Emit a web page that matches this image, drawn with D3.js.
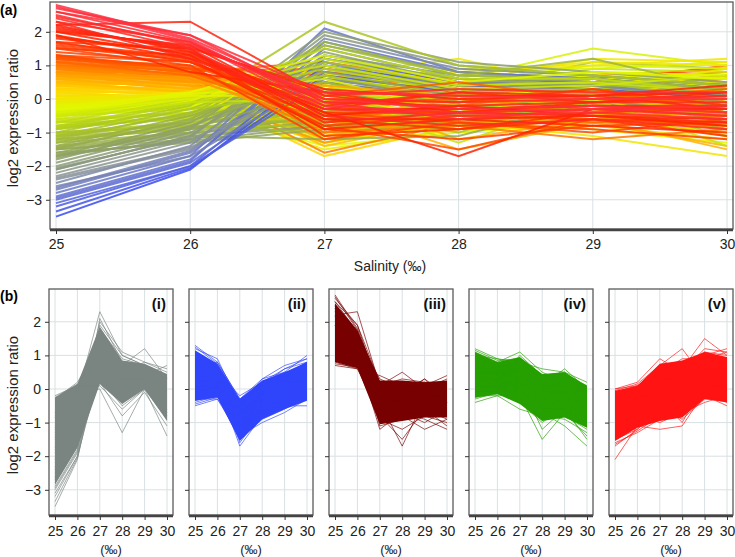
<!DOCTYPE html>
<html><head><meta charset="utf-8">
<script src="https://cdn.jsdelivr.net/npm/d3@7"></script>
<style>body{margin:0;background:#fff}svg{display:block;font-family:"Liberation Sans",Arial,sans-serif}</style>
</head><body><svg id="c" width="735" height="557"></svg>
<script>
const salinity = [25, 26, 27, 28, 29, 30];
const yTicks = [-3, -2, -1, 0, 1, 2];
const clusterNames = ["(i)", "(ii)", "(iii)", "(iv)", "(v)"];
const clusterColors = ["#7a8582", "#2f45fb", "#780000", "#25a000", "#ff1414"];
// order in which clusters are stacked in panel (a) (last = on top)
const stackOrder = [1, 3, 4, 0, 2];

// individual gene profiles (log2 ratio at 25..30 ‰)
const clusterI = [
[-3.5,-2.1,1.0,0.4,0.3,0.0],[-3.2,-2.0,1.2,0.5,0.4,0.1],[-3.0,-1.9,0.8,0.3,0.2,-0.2],[-2.9,-1.8,1.5,0.6,0.5,0.2],
[-2.7,-1.6,1.1,0.2,0.3,-0.3],[-2.6,-1.7,0.6,0.0,0.1,-0.5],[-2.5,-1.4,1.8,0.9,0.7,0.4],[-2.4,-1.5,0.9,0.4,0.4,0.0],
[-2.3,-1.3,1.3,0.7,0.6,0.3],[-2.2,-1.2,0.4,-0.2,0.1,-0.7],[-2.1,-1.1,1.6,0.8,0.5,0.2],[-2.0,-1.0,1.0,0.3,0.3,-0.1],
[-1.9,-0.9,2.0,1.1,0.8,0.5],[-1.8,-0.8,0.7,-0.1,0.2,-0.4],[-1.7,-0.7,1.4,0.5,0.6,0.1],[-1.6,-0.9,0.3,-0.5,0.0,-0.9],
[-1.5,-0.6,1.2,0.6,0.4,0.3],[-1.4,-0.5,0.8,0.1,0.2,-0.2],[-1.3,-0.6,1.7,0.7,1.2,0.3],[-1.2,-0.4,0.5,-0.3,0.1,-0.6],
[-1.1,-0.3,1.1,0.4,0.5,0.0],[-1.0,-0.2,2.3,1.0,0.7,0.4],[-0.9,-0.3,0.2,-0.8,-0.1,-1.1],[-0.8,-0.1,0.9,0.2,0.3,-0.3],
[-0.7,0.0,1.5,0.6,0.6,0.2],[-0.6,-0.1,0.0,-1.3,0.0,-1.4],[-0.5,0.1,1.0,0.3,0.4,0.7],[-0.4,0.0,0.6,-0.4,0.1,-0.5],
[-0.3,0.2,1.3,0.5,0.8,0.6],[-0.2,0.1,0.1,-0.6,0.0,-0.8],[-2.8,-1.7,2.1,0.8,0.6,0.3],[-3.1,-2.0,0.5,0.0,0.2,-0.4],
[-3.35,-2.05,0.7,0.2,0.3,-0.2],[-2.95,-1.85,1.7,0.8,0.6,0.3],[-2.65,-1.55,1.3,0.5,0.4,0.0],[-2.35,-1.45,0.6,0.1,0.2,-0.4],
[-2.05,-1.15,1.9,1.0,0.7,0.4],[-1.75,-0.85,1.0,0.2,0.3,-0.2],[-1.45,-0.65,0.5,-0.2,0.1,-0.5],[-1.15,-0.45,1.6,0.7,0.6,0.3],
[-0.85,-0.15,0.7,0.0,0.2,-0.3],[-0.55,0.05,1.2,0.4,0.5,0.2],[-0.25,0.15,0.4,-0.2,0.1,-0.4]
];
const clusterII = [
[1.3,0.8,-0.3,0.2,0.6,0.9],[1.2,0.9,-0.5,0.3,0.5,1.0],[1.1,0.7,-0.6,0.0,0.4,0.6],[1.0,0.6,-0.8,-0.2,0.2,0.5],
[0.9,0.7,-0.4,0.1,0.6,0.8],[0.9,0.5,-1.0,-0.4,0.0,0.3],[0.8,0.5,-0.7,-0.1,0.3,0.7],[0.7,0.4,-1.2,-0.5,-0.2,0.2],
[0.7,0.6,-0.5,0.2,0.4,0.5],[0.6,0.3,-0.9,-0.3,0.1,0.4],[0.5,0.4,-1.4,-0.6,-0.3,0.1],[0.5,0.2,-0.6,0.0,0.3,0.6],
[0.4,0.3,-1.1,-0.4,0.0,0.3],[0.3,0.1,-0.8,-0.2,0.2,0.2],[0.3,0.2,-1.7,-0.8,-0.5,0.0],[0.2,0.0,-1.0,-0.5,-0.1,0.4],
[0.1,0.1,-0.6,-0.1,0.3,0.7],[0.1,-0.1,-1.3,-0.7,-0.4,-0.1],[0.0,0.0,-0.9,-0.3,0.0,0.3],[-0.1,-0.2,-1.5,-0.9,-0.6,-0.2],
[-0.1,0.1,-0.7,-0.2,0.1,0.5],[-0.2,-0.1,-1.1,-0.6,-0.2,0.1],[-0.3,-0.3,-1.4,-1.0,-0.7,-0.3],[-0.3,0.0,-0.5,0.1,0.4,0.8],
[-0.4,-0.2,-1.0,-0.4,-0.3,0.0],[-0.5,-0.3,-1.2,-0.8,-0.5,-0.5],[0.6,0.8,-0.3,0.3,0.7,0.9],[1.0,0.4,-1.6,-0.7,-0.2,0.2],
[0.4,0.5,-0.2,0.2,0.5,0.6],[0.8,0.2,-1.3,-0.5,-0.3,0.0],
[1.25,0.75,-0.4,0.1,0.4,0.7],[1.05,0.65,-0.9,-0.3,0.1,0.4],[0.85,0.55,-0.6,0.0,0.3,0.6],[0.65,0.45,-1.1,-0.5,-0.1,0.2],
[0.45,0.25,-0.7,-0.2,0.2,0.5],[0.25,0.15,-1.2,-0.6,-0.3,0.1],[0.05,0.05,-0.8,-0.3,0.1,0.4],[-0.15,-0.05,-1.3,-0.7,-0.4,0.0],
[-0.35,-0.15,-0.9,-0.4,-0.1,0.2],[-0.45,-0.25,-0.6,-0.2,0.0,0.3]
];
const clusterIII = [
[2.8,1.8,0.0,-0.3,-0.2,-0.4],[2.7,1.9,0.2,0.1,0.0,0.0],[2.6,1.7,-0.3,-0.5,-0.4,-0.6],[2.5,1.6,0.1,0.3,0.2,0.2],
[2.4,1.5,-0.5,-0.8,-0.6,-0.9],[2.3,1.7,-0.1,-0.2,-0.1,-0.1],[2.2,1.4,-0.7,-0.4,-0.5,-0.7],[2.1,1.5,0.3,0.0,0.1,0.4],
[2.0,1.3,-0.4,-1.7,-0.3,-0.5],[1.9,1.2,-0.9,-0.6,-0.8,-1.0],[1.8,1.4,-0.2,0.2,-0.1,0.1],[1.7,1.1,-0.6,-0.9,-0.4,-0.3],
[1.6,1.2,0.0,-0.1,0.3,-0.2],[1.5,1.0,-1.2,-0.7,-0.9,-1.2],[1.4,1.1,-0.3,-0.4,-0.2,-0.4],[1.3,0.9,-0.8,-1.5,-0.6,-0.8],
[1.2,1.0,0.1,0.5,0.0,0.3],[1.1,0.8,-0.5,-0.3,-0.7,-0.5],[1.0,0.9,-1.0,-0.8,-1.2,-0.9],[0.9,0.7,-0.2,0.0,-0.3,-0.1],
[0.8,0.6,-0.7,-0.5,-0.4,-0.6],[0.7,0.6,0.4,0.1,0.2,0.0],[2.6,1.9,-0.1,-0.6,-0.3,-0.2],[2.0,1.6,-0.5,-0.2,-0.5,-0.8],
[1.5,1.3,-0.9,-1.2,-0.8,-0.7],[2.3,1.2,-0.3,0.2,0.1,-0.3],[1.7,1.5,-1.1,-0.9,-0.6,-1.1],[1.1,0.7,-0.6,-0.2,0.3,-0.4],
[1.9,0.8,0.2,-0.4,-0.1,0.2],[1.3,1.1,-0.4,-0.7,-1.0,-0.6],[2.2,2.3,0.1,-0.3,-0.2,-0.3],
[2.75,1.75,-0.2,-0.4,-0.3,-0.5],[2.45,1.65,0.0,-0.1,0.0,0.1],[2.15,1.45,-0.6,-0.6,-0.5,-0.6],[1.85,1.35,-0.3,-0.3,-0.2,-0.2],
[1.55,1.15,-0.8,-0.5,-0.6,-0.7],[1.25,0.95,-0.1,0.0,-0.1,0.0],[0.95,0.75,-0.5,-0.6,-0.5,-0.4],[0.75,0.65,-0.9,-0.7,-0.7,-0.8],
[2.05,1.55,0.2,0.1,0.1,0.2],[1.65,1.25,-0.4,-0.4,-0.3,-0.3]
];
const clusterIV = [
[1.2,0.9,0.7,0.3,0.4,-0.1],[1.1,0.8,1.1,0.5,0.2,-0.3],[1.0,0.7,0.4,-0.2,0.0,-0.6],[1.0,0.9,0.8,0.6,0.5,0.2],
[0.9,0.6,0.2,-0.5,-0.3,-0.9],[0.9,0.7,0.6,0.1,0.6,0.0],[0.8,0.5,0.5,-0.1,-0.1,-0.5],[0.8,0.6,0.9,0.4,0.3,-0.2],
[0.7,0.4,0.0,-0.8,-0.5,-1.1],[0.7,0.5,0.3,-0.3,0.1,-0.4],[0.6,0.3,0.7,0.2,0.2,-0.1],[0.6,0.4,-0.2,-1.5,-0.7,-1.4],
[0.5,0.2,0.4,0.0,-0.2,-0.7],[0.5,0.5,0.8,0.3,0.4,0.1],[0.4,0.2,0.1,-0.4,-0.4,-0.8],[0.4,0.3,0.6,0.2,0.0,-0.3],
[0.3,0.1,-0.3,-0.9,-0.8,-1.2],[0.3,0.3,0.5,-0.1,0.3,-0.2],[0.2,0.0,0.2,-0.2,-0.1,-0.6],[0.2,0.2,1.0,0.4,0.5,0.0],
[0.1,0.0,-0.1,-0.6,-0.6,-1.0],[0.1,0.1,0.3,0.1,0.1,-0.4],[0.0,-0.1,0.0,-0.7,-1.1,-1.7],[0.0,0.1,0.4,0.0,-0.2,-0.5],
[-0.1,-0.1,-0.4,-1.0,-0.5,-0.9],[-0.1,0.0,0.2,-0.3,0.1,-0.2],[-0.2,-0.2,-0.6,-0.8,-0.9,-1.3],[-0.3,-0.1,0.1,-0.4,-0.3,-0.7],
[-0.4,-0.2,-0.2,-0.5,-0.4,-0.8],[0.6,0.6,0.2,-1.2,-0.6,-1.5],
[1.15,0.85,0.9,0.4,0.3,0.0],[0.95,0.65,0.3,-0.3,-0.1,-0.5],[0.75,0.55,0.6,0.1,0.2,-0.2],[0.55,0.35,0.0,-0.6,-0.4,-0.9],
[0.35,0.25,0.7,0.2,0.3,-0.1],[0.15,0.05,0.1,-0.4,-0.3,-0.7],[-0.05,-0.05,0.3,-0.1,0.0,-0.4],[-0.25,-0.15,-0.3,-0.6,-0.6,-1.0],
[0.45,0.45,0.5,0.0,0.1,-0.3],[0.25,0.15,-0.1,-0.7,-0.5,-1.1]
];
const clusterV = [
[0.0,0.2,0.9,0.5,1.2,1.1],[0.0,0.1,0.6,0.8,1.0,1.2],[-0.1,0.1,0.4,0.2,0.6,0.5],[-0.1,0.0,0.7,1.2,0.3,0.9],
[-0.2,0.0,0.2,0.0,0.4,0.2],[-0.3,-0.1,0.5,0.4,0.8,0.7],[-0.3,-0.2,0.0,-0.2,0.2,-0.1],[-0.4,-0.1,0.3,0.6,1.5,1.0],
[-0.5,-0.3,0.1,0.1,0.5,0.4],[-0.5,-0.2,-0.2,0.3,0.2,0.0],[-0.6,-0.4,0.4,0.2,0.9,0.8],[-0.7,-0.4,-0.4,-0.3,0.0,-0.3],
[-0.8,-0.5,0.2,0.4,0.7,0.6],[-0.8,-0.6,-0.6,0.0,0.3,0.2],[-0.9,-0.5,0.0,-0.1,0.5,0.3],[-1.0,-0.7,-0.3,0.2,1.1,0.9],
[-1.0,-0.8,-0.8,-0.5,-0.2,-0.5],[-1.1,-0.7,0.1,0.0,0.4,0.5],[-1.2,-0.9,-0.5,-0.3,0.1,0.1],[-1.2,-0.8,-1.0,-0.7,-0.4,-0.2],
[-1.3,-1.0,-0.2,0.1,0.6,0.4],[-1.4,-1.0,-0.7,-0.4,0.2,0.0],[-1.5,-1.1,-1.2,-1.1,-0.1,-0.4],[-1.5,-1.2,-0.4,-0.2,0.3,0.2],
[-1.6,-1.3,-0.9,-0.6,0.0,-0.1],[-1.7,-1.2,-0.6,-0.9,-0.3,-0.3],[-2.1,-1.1,-0.8,-0.5,0.1,0.2],[-0.4,-0.3,0.5,0.9,0.9,1.1],
[-0.7,-0.6,-0.1,-0.4,0.6,0.6],[-1.1,-0.9,-0.3,-1.0,0.2,0.3],
[-0.05,0.15,0.7,0.7,1.1,1.0],[-0.25,-0.05,0.3,0.3,0.7,0.6],[-0.45,-0.25,0.2,0.2,0.8,0.7],[-0.65,-0.45,0.1,0.0,0.4,0.3],
[-0.85,-0.55,-0.1,0.1,0.6,0.5],[-1.05,-0.75,-0.4,-0.2,0.3,0.2],[-1.25,-0.85,-0.6,-0.4,0.2,0.1],[-1.45,-1.05,-0.5,-0.3,0.4,0.3],
[-1.65,-1.25,-0.8,-0.7,-0.1,-0.2],[-0.35,-0.15,0.6,0.5,1.0,0.9]
];
const clusters = [clusterI, clusterII, clusterIII, clusterIV, clusterV];

// dense core of each cluster (upper / lower edge of the filled band)
const bandHigh = [
[-0.25,0.15,1.85,0.85,0.75,0.45],[1.15,0.75,-0.3,0.25,0.5,0.8],[2.55,1.75,0.25,0.25,0.2,0.25],
[1.1,0.8,0.95,0.45,0.5,0.1],[-0.05,0.1,0.75,0.85,1.1,0.95]];
const bandLow = [
[-2.85,-1.75,0.15,-0.45,0.0,-0.95],[-0.35,-0.25,-1.55,-0.9,-0.6,-0.35],[0.8,0.62,-1.05,-0.95,-0.85,-0.85],
[-0.25,-0.15,-0.45,-0.95,-0.85,-1.15],[-1.55,-1.15,-0.95,-0.85,-0.3,-0.4]];

// colour ramp of panel (a), keyed on the ratio at 25 ‰
const rampStops = [-3.5,-2.8,-2.3,-1.6,-0.9,-0.3,0.3,0.8,1.3,2.0,2.7];
const rampColors = ["#3a4af0","#6a78c8","#8a9492","#90a45a","#b0cc1c","#e0f800","#ffd400","#ff9800","#ff4a00","#ff2200","#ff3040"];

const svg = d3.select("#c");
const gridCol = "#d9e0e3", frameCol = "#5a5a5a";

function panel(g, x, y, opts) {
  g.append("g").selectAll("line").data(salinity).join("line")
    .attr("x1", d => x(d)).attr("x2", d => x(d))
    .attr("y1", y.range()[1]).attr("y2", y.range()[0])
    .attr("stroke", gridCol).attr("stroke-width", 1);
  g.append("g").selectAll("line").data(yTicks).join("line")
    .attr("x1", opts.left).attr("x2", opts.right)
    .attr("y1", d => y(d)).attr("y2", d => y(d))
    .attr("stroke", gridCol).attr("stroke-width", 1);
}
function frame(g, x, y, opts) {
  const top = y.range()[1], bot = y.range()[0];
  g.append("rect").attr("x", opts.left).attr("y", top)
    .attr("width", opts.right - opts.left).attr("height", bot - top)
    .attr("fill", "none").attr("stroke", frameCol).attr("stroke-width", 1.3);
  const xa = g.append("g").attr("transform", `translate(0,${bot + 1})`)
    .call(d3.axisBottom(x).tickValues(salinity).tickSize(4).tickSizeOuter(0).tickFormat(d3.format("d")));
  xa.select(".domain").attr("stroke", "#444").attr("stroke-width", 2.6)
    .attr("d", `M${opts.left},0H${opts.right}`);
  xa.selectAll(".tick line").attr("stroke", "#333");
  xa.selectAll("text").attr("font-size", 14).attr("fill", "#222").attr("dy", opts.xdy);
  const ya = g.append("g").attr("transform", `translate(${opts.left},0)`)
    .call(d3.axisLeft(y).tickValues(yTicks).tickSize(4).tickFormat(opts.ylab ? (d => d < 0 ? "\u2212" + Math.abs(d) : d) : ""));
  ya.select(".domain").remove();
  ya.selectAll(".tick line").attr("stroke", "#333");
  ya.selectAll("text").attr("font-size", 14).attr("fill", "#222").attr("dx", "-1");
}

const line = (x, y) => d3.line().x((d, i) => x(salinity[i])).y(d => y(d));

// ---------- panel (a)
{
  const opts = {left: 50, right: 733, xdy: "0.85em", ylab: true};
  const x = d3.scaleLinear().domain([25, 30]).range([56, 727]);
  const y = d3.scaleLinear().domain([-3.87, 2.887]).range([229, 2]);
  const g = svg.append("g");
  panel(g, x, y, opts);
  const color = d3.scaleLinear().domain(rampStops).range(rampColors).clamp(true);
  const all = stackOrder.flatMap(k => clusters[k].slice().sort((a, b) => a[0] - b[0]));
  svg.append("clipPath").attr("id", "ca").append("rect")
    .attr("x", 50).attr("y", 2).attr("width", 683).attr("height", 227);
  g.append("g").attr("clip-path", "url(#ca)").selectAll("path").data(all).join("path")
    .attr("d", line(x, y)).attr("fill", "none")
    .attr("stroke", d => color(d[0])).attr("stroke-width", 2.0).attr("stroke-opacity", 0.85);
  frame(g, x, y, opts);
  svg.append("text").attr("x", 390).attr("y", 271).attr("text-anchor", "middle")
    .attr("font-size", 14).attr("fill", "#222").text("Salinity (\u2030)");
  svg.append("text").attr("transform", "translate(18,118) rotate(-90)").attr("text-anchor", "middle")
    .attr("font-size", 15).attr("fill", "#222").text("log2 expression ratio");
  svg.append("text").attr("x", 0).attr("y", 15).attr("font-size", 14).attr("font-weight", "bold").text("(a)");
}

// ---------- panel (b)
{
  const lefts = [49, 189, 329, 469, 609];
  const y = d3.scaleLinear().domain([-3.75, 2.976]).range([515, 289]);
  clusters.forEach((cl, k) => {
    const L = lefts[k], R = L + 124;
    const opts = {left: L, right: R, xdy: "0.9em", ylab: k === 0};
    const x = d3.scaleLinear().domain([25, 30]).range([L + 6, L + 118]);
    const g = svg.append("g");
    panel(g, x, y, opts);
    const area = d3.area().x((d, i) => x(salinity[i])).y0((d, i) => y(bandLow[k][i])).y1(d => y(d));
    g.append("path").datum(bandHigh[k]).attr("d", area).attr("fill", clusterColors[k]);
    g.append("g").selectAll("path").data(cl).join("path")
      .attr("d", line(x, y)).attr("fill", "none")
      .attr("stroke", clusterColors[k]).attr("stroke-width", 0.9).attr("stroke-opacity", 0.75);
    frame(g, x, y, opts);
    svg.append("text").attr("x", R - 7).attr("y", 309).attr("text-anchor", "end")
      .attr("font-size", 15).attr("font-weight", "bold").attr("fill", "#111").text(clusterNames[k]);
    svg.append("text").attr("x", L + 62).attr("y", 554).attr("text-anchor", "middle")
      .attr("font-size", 13).attr("fill", "#222").text("(\u2030)");
  });
  svg.append("text").attr("transform", "translate(18,405) rotate(-90)").attr("text-anchor", "middle")
    .attr("font-size", 15).attr("fill", "#222").text("log2 expression ratio");
  svg.append("text").attr("x", 0).attr("y", 301).attr("font-size", 14).attr("font-weight", "bold").text("(b)");
}
</script></body></html>
